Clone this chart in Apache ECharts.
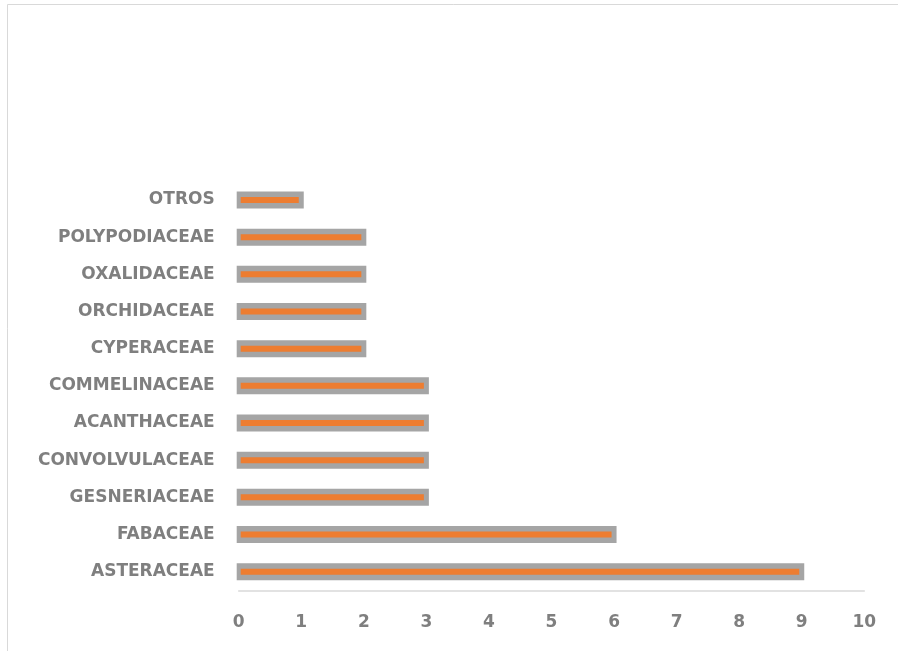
<!DOCTYPE html>
<html>
<head>
<meta charset="utf-8">
<script src="https://cdn.jsdelivr.net/npm/echarts@6/dist/echarts.min.js"></script>
<style>html,body{margin:0;padding:0;background:#fff;}#c{width:898px;height:651px;}</style>
</head>
<body>
<div id="c"></div>
<script>
var categories = ['ASTERACEAE','FABACEAE','GESNERIACEAE','CONVOLVULACEAE','ACANTHACEAE','COMMELINACEAE','CYPERACEAE','ORCHIDACEAE','OXALIDACEAE','POLYPODIACEAE','OTROS'];
var values = [9,6,3,3,3,3,2,2,2,2,1];
var xTicks = [0,1,2,3,4,5,6,7,8,9,10];

var seriesData = values.map(function (v, i) { return [v, i]; });
var FONT = 'DejaVu Sans';

var chart = echarts.init(document.getElementById('c'));
chart.setOption({
  animation: false,
  backgroundColor: '#fff',
  graphic: [{
    type: 'rect', silent: true,
    shape: {x: 7.5, y: 4.5, width: 3000, height: 3000},
    style: {fill: 'none', stroke: '#d9d9d9', lineWidth: 1}
  }],
  grid: {left: 238.7, right: 33.7, top: 181.4, bottom: 60.7, containLabel: false},
  xAxis: {
    type: 'value', min: 0, max: 10, interval: 1,
    splitLine: {show: false},
    axisLine: {show: true, lineStyle: {color: '#d9d9d9', width: 1.5}},
    axisTick: {show: false},
    axisLabel: {
      margin: 24, color: '#7f7f7f', fontFamily: FONT, fontWeight: 'bold', fontSize: 17,
      formatter: function (v) { return xTicks.indexOf(v) >= 0 ? String(v) : ''; }
    }
  },
  yAxis: {
    type: 'category', data: categories,
    axisLine: {show: false}, axisTick: {show: false}, splitLine: {show: false},
    axisLabel: {margin: 24, color: '#7f7f7f', fontFamily: FONT, fontWeight: 'bold', fontSize: 17}
  },
  series: [{
    type: 'custom',
    data: seriesData,
    encode: {x: 0, y: 1},
    renderItem: function (params, api) {
      var v = api.value(0), idx = api.value(1);
      var s = api.coord([0, idx]);
      var e = api.coord([v, idx]);
      var cy = s[1];
      return {
        type: 'group',
        children: [
          {type: 'rect', shape: {x: s[0] - 2, y: cy - 8.5, width: e[0] - s[0] + 4.5, height: 17}, style: {fill: '#a5a5a5'}},
          {type: 'rect', shape: {x: s[0] + 2, y: cy - 3, width: e[0] - s[0] - 4.5, height: 6}, style: {fill: '#ed7d31'}}
        ]
      };
    }
  }]
});
</script>
</body>
</html>
